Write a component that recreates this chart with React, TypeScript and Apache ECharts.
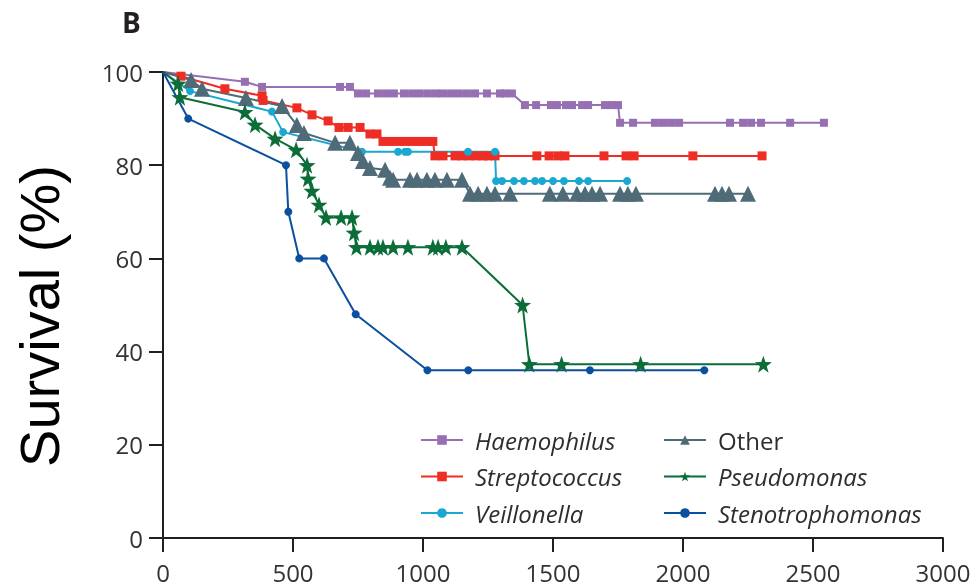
import React, { useEffect, useRef } from "react";
import * as echarts from "echarts";

// ---- data ----
const haemophilusDays = [0, 315, 381, 681, 719, 750, 781, 827, 858, 888, 927, 958, 988, 1019, 1050, 1077, 1108, 1138, 1169, 1200, 1246, 1296, 1315, 1342, 1392, 1435, 1492, 1515, 1550, 1573, 1612, 1635, 1700, 1727, 1750, 1758, 1808, 1892, 1923, 1954, 1985, 2181, 2231, 2262, 2300, 2412, 2542];
const haemophilusSurv = [100, 97.9, 96.8, 96.8, 96.8, 95.4, 95.4, 95.4, 95.4, 95.4, 95.4, 95.4, 95.4, 95.4, 95.4, 95.4, 95.4, 95.4, 95.4, 95.4, 95.4, 95.4, 95.4, 95.4, 92.9, 92.9, 92.9, 92.9, 92.9, 92.9, 92.9, 92.9, 92.9, 92.9, 92.9, 89.1, 89.1, 89.1, 89.1, 89.1, 89.1, 89.1, 89.1, 89.1, 89.1, 89.1, 89.1];

const streptoDays = [0, 69, 238, 381, 385, 515, 573, 635, 677, 712, 758, 796, 823, 846, 873, 904, 931, 958, 988, 1015, 1038, 1046, 1077, 1123, 1150, 1177, 1204, 1231, 1250, 1277, 1438, 1485, 1519, 1546, 1696, 1781, 1812, 2038, 2304];
const streptoSurv = [100, 99.1, 96.4, 94.9, 93.9, 92.3, 90.8, 89.5, 88.1, 88.1, 88.1, 86.7, 86.7, 85.1, 85.1, 85.1, 85.1, 85.1, 85.1, 85.1, 85.1, 82.0, 82.0, 82.0, 82.0, 82.0, 82.0, 82.0, 82.0, 82.0, 82.0, 82.0, 82.0, 82.0, 82.0, 82.0, 82.0, 82.0, 82.0];

const veillonellaDays = [0, 104, 419, 462, 765, 904, 931, 942, 1173, 1277, 1281, 1304, 1350, 1388, 1431, 1458, 1500, 1542, 1600, 1635, 1785];
const veillonellaSurv = [100, 95.9, 91.5, 87.1, 82.9, 82.9, 82.9, 82.9, 82.9, 82.9, 76.6, 76.6, 76.6, 76.6, 76.6, 76.6, 76.6, 76.6, 76.6, 76.6, 76.6];

const otherDays = [0, 108, 150, 319, 458, 515, 542, 662, 719, 750, 769, 796, 854, 873, 885, 950, 977, 1015, 1046, 1092, 1150, 1181, 1212, 1246, 1277, 1335, 1488, 1538, 1592, 1623, 1650, 1681, 1758, 1788, 1819, 2123, 2150, 2177, 2250];
const otherSurv = [100, 98.3, 96.4, 94.4, 92.7, 88.6, 86.9, 84.8, 84.8, 82.6, 80.9, 79.4, 79.0, 77.3, 76.9, 76.9, 76.9, 76.9, 76.9, 76.9, 76.9, 73.9, 73.9, 73.9, 73.9, 73.9, 73.9, 73.9, 73.9, 73.9, 73.9, 73.9, 73.9, 73.9, 73.9, 73.9, 73.9, 73.9, 73.9];

const pseudoDays = [0, 58, 65, 315, 354, 431, 512, 554, 558, 573, 600, 627, 685, 727, 735, 744, 796, 827, 846, 885, 942, 1038, 1058, 1088, 1150, 1383, 1409, 1533, 1837, 2309];
const pseudoSurv = [100, 97.5, 94.6, 91.4, 88.7, 85.7, 83.3, 80.0, 77.1, 74.5, 71.5, 68.8, 68.8, 68.8, 65.5, 62.4, 62.4, 62.4, 62.4, 62.4, 62.4, 62.4, 62.4, 62.4, 62.4, 50.0, 37.3, 37.3, 37.3, 37.3];

const stenoDays = [0, 97, 473, 482, 524, 619, 741, 1017, 1174, 1642, 2082];
const stenoSurv = [100, 90, 80, 70, 60, 60, 48, 36, 36, 36, 36];

const xTicks = [0, 500, 1000, 1500, 2000, 2500, 3000];
const yTicks = [0, 20, 40, 60, 80, 100];

const STAR = "path://M10,0 L12.35,6.76 L19.51,6.91 L13.8,11.24 L15.88,18.09 L10,14 L4.12,18.09 L6.2,11.24 L0.49,6.91 L7.65,6.76 Z";

function pts(xs: number[], ys: number[]) {
  return xs.map((x, i) =>
    i === 0 ? { value: [x, ys[i]], symbol: "none" } : { value: [x, ys[i]] }
  );
}

export default function App() {
  const ref = useRef<HTMLDivElement>(null);
  useEffect(() => {
    if (!ref.current) return;
    const chart = echarts.init(ref.current, undefined, { renderer: "svg" });
    const mk = (name: string, xs: number[], ys: number[], color: string, symbol: string, size: number) => ({
      name,
      type: "line",
      data: pts(xs, ys),
      symbol,
      symbolSize: size,
      showSymbol: true,
      showAllSymbol: true,
      lineStyle: { color, width: 2 },
      itemStyle: { color, borderWidth: 0 },
      emphasis: { disabled: true },
    });
    const legendText = {
      fontSize: 24,
      fontFamily: "Open Sans",
      fontStyle: "italic",
      color: "#2e2e2e",
      lineHeight: 24,
      padding: [0, 0, 0, 7],
      rich: {
        n: { fontStyle: "normal", fontSize: 24, fontFamily: "Open Sans", color: "#2e2e2e" },
      },
    };
    chart.setOption({
      animation: false,
      title: {
        text: "B",
        left: 117,
        top: 3,
        textStyle: { fontSize: 28, fontWeight: "bold", fontFamily: "Open Sans", color: "#231f20" },
      },
      grid: { left: 163, right: 35, top: 72, bottom: 49 },
      legend: [
        {
          data: ["Haemophilus", "Streptococcus", "Veillonella"],
          orient: "vertical",
          left: 415,
          top: 423,
          itemWidth: 42,
          itemHeight: 12,
          itemGap: 12.5,
          textStyle: legendText,
        },
        {
          data: ["Other", "Pseudomonas", "Stenotrophomonas"],
          orient: "vertical",
          left: 658,
          top: 423,
          itemWidth: 42,
          itemHeight: 12,
          itemGap: 12.5,
          textStyle: legendText,
          formatter: (name: string) => (name === "Other" ? "{n|Other}" : name),
        },
      ],
      xAxis: {
        type: "value",
        min: 0,
        max: 3000,
        interval: 500,
        splitLine: { show: false },
        axisLine: { onZero: false, lineStyle: { color: "#231f20", width: 2 } },
        axisTick: { length: 14, lineStyle: { color: "#231f20", width: 2 } },
        axisLabel: {
          margin: 22,
          fontSize: 24,
          fontFamily: "Open Sans",
          color: "#333",
          formatter: (v: number) => (xTicks.includes(v) ? String(v) : ""),
        },
      },
      yAxis: {
        type: "value",
        min: 0,
        max: 100,
        interval: 20,
        splitLine: { show: false },
        axisLine: { show: true, lineStyle: { color: "#231f20", width: 2 } },
        axisTick: { show: true, length: 14, lineStyle: { color: "#231f20", width: 2 } },
        axisLabel: {
          margin: 20,
          fontSize: 24,
          fontFamily: "Open Sans",
          color: "#333",
          formatter: (v: number) => (yTicks.includes(v) ? String(v) : ""),
        },
      },
      graphic: [
        {
          type: "text",
          x: 39,
          y: 316,
          rotation: Math.PI / 2,
          style: {
            text: "Survival (%)",
            font: '56px "Liberation Sans"',
            fill: "#000",
            textAlign: "center",
            textVerticalAlign: "middle",
          },
        },
      ],
      series: [
        mk("Haemophilus", haemophilusDays, haemophilusSurv, "#9670B2", "rect", 8),
        mk("Streptococcus", streptoDays, streptoSurv, "#EE2E24", "rect", 9),
        mk("Veillonella", veillonellaDays, veillonellaSurv, "#1AA7D0", "circle", 8),
        mk("Other", otherDays, otherSurv, "#4F6B78", "triangle", 16),
        mk("Pseudomonas", pseudoDays, pseudoSurv, "#0B6E39", STAR, 17),
        mk("Stenotrophomonas", stenoDays, stenoSurv, "#0B4F9F", "circle", 8),
      ],
    });
    return () => chart.dispose();
  }, []);
  return <div ref={ref} style={{ position: "fixed", left: 0, top: 0, width: 978, height: 587 }} />;
}
